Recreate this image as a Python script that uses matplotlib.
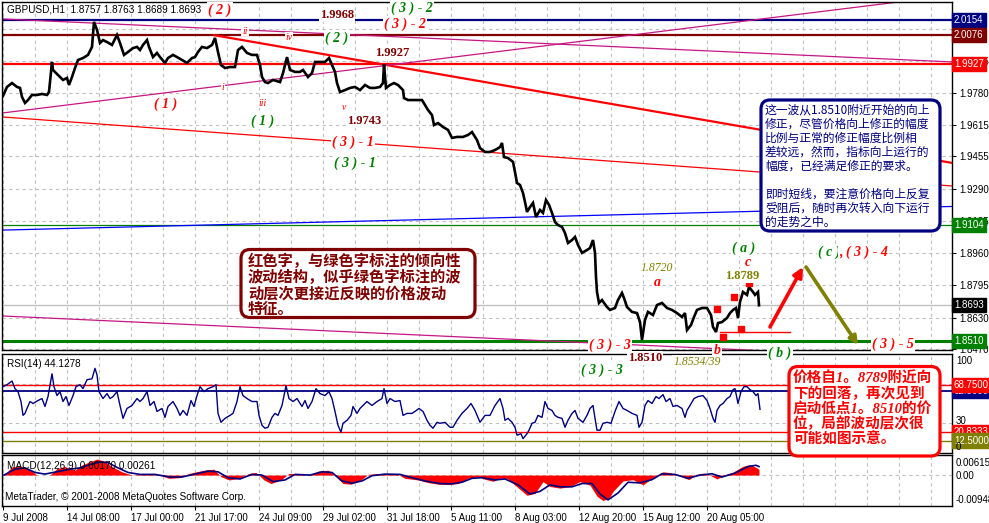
import matplotlib
matplotlib.use("Agg")
import matplotlib.pyplot as plt
import matplotlib.transforms as mtransforms
from matplotlib.patches import FancyBboxPatch
import numpy as np

plt.rcParams['font.family'] = ['Liberation Sans', 'Noto Sans CJK SC', 'DejaVu Sans']

# ------------------------------------------------------------------ data
header_text = "GBPUSD,H1  1.8757 1.8763 1.8689 1.8693"

# (bar index, close) (H1 bars)
price_points = [
 (0,1.9765),(4,1.9811),(9,1.9831),(14,1.9811),(17,1.9806),(19,1.9760),(22,1.9729),(25,1.9744),(29,1.9770),(34,1.9770),
 (39,1.9775),(44,1.9770),(46,1.9785),(49,1.9939),(50,1.9898),(55,1.9872),(60,1.9847),(64,1.9857),(66,1.9821),(69,1.9862),
 (72,1.9908),(75,1.9949),(80,1.9959),(85,1.9975),(89,2.0016),(91,2.0144),(94,2.0103),(97,2.0036),(100,2.0051),(104,2.0041),
 (109,2.0026),(114,2.0077),(117,2.0036),(121,1.9975),(125,1.9990),(130,2.0010),(134,2.0016),(137,2.0000),(140,2.0026),(144,2.0051),
 (146,2.0016),(150,1.9964),(154,1.9985),(157,1.9964),(162,1.9934),(165,1.9959),(170,1.9975),(174,1.9964),(179,1.9949),(184,1.9934),
 (189,1.9959),(192,1.9964),(195,1.9990),(199,2.0016),(204,2.0010),(209,2.0026),(212,2.0062),(215,1.9990),(218,1.9923),(222,1.9908),
 (227,1.9913),(232,1.9913),(235,2.0000),(239,2.0016),(244,1.9985),(249,1.9975),(254,1.9975),(257,1.9923),(259,1.9862),(262,1.9836),
 (265,1.9831),(270,1.9847),(277,1.9836),(280,1.9882),(284,1.9964),(287,1.9898),(292,1.9888),(297,1.9888),(300,1.9898),(305,1.9862),
 (309,1.9882),(312,1.9939),(317,1.9939),(322,1.9939),(326,1.9959),(329,1.9923),(332,1.9888),(334,1.9831),(337,1.9785),(342,1.9795),
 (347,1.9806),(352,1.9811),(357,1.9795),(362,1.9821),(367,1.9806),(372,1.9806),(377,1.9811),(380,1.9831),(381,1.9927),(383,1.9806),
 (387,1.9821),(391,1.9831),(395,1.9821),(400,1.9795),(401,1.9754),(405,1.9744),(410,1.9744),(415,1.9744),(419,1.9744),(422,1.9719),
 (425,1.9693),(429,1.9667),(431,1.9616),(435,1.9626),(440,1.9606),(445,1.9591),(449,1.9550),(454,1.9555),(460,1.9555),(465,1.9565),
 (469,1.9580),(474,1.9539),(477,1.9498),(482,1.9478),(487,1.9478),(492,1.9488),(497,1.9503),(499,1.9524),(501,1.9452),(505,1.9447),
 (510,1.9427),(512,1.9375),(514,1.9319),(517,1.9309),(520,1.9268),(522,1.9222),(524,1.9171),(527,1.9196),(530,1.9217),(533,1.9145),
 (537,1.9181),(540,1.9166),(543,1.9232),(546,1.9207),(549,1.9166),(552,1.9119),(555,1.9104),(559,1.9094),(562,1.9063),(565,1.9012),
 (569,1.9027),(572,1.9043),(575,1.9002),(579,1.8961),(584,1.8976),(587,1.8986),(590,1.9027),(592,1.8961),(593,1.8838),(594,1.8761),
 (596,1.8705),(599,1.8720),(601,1.8705),(604,1.8684),(607,1.8669),(612,1.8679),(615,1.8720),(619,1.8756),(621,1.8730),(624,1.8684),
 (629,1.8659),(634,1.8653),(637,1.8607),(639,1.8515),(642,1.8618),(645,1.8659),(650,1.8643),(654,1.8694),(659,1.8705),(664,1.8679),
 (669,1.8669),(674,1.8653),(679,1.8633),(682,1.8653),(684,1.8566),(688,1.8592),(691,1.8633),(694,1.8669),(699,1.8679),(704,1.8679),
 (708,1.8643),(710,1.8582),(713,1.8556),(715,1.8602),(719,1.8607),(724,1.8628),(727,1.8653),(730,1.8669),(733,1.8679),(735,1.8628),
 (737,1.8710),(740,1.8761),(744,1.8746),(746,1.8787),(750,1.8761),(752,1.8746),(755,1.8761),(756,1.8693),
]

rsi_points = [
 (0,67),(4,69),(9,72.7),(12,65),(15,62),(18,52),(20,38),(22,40),(24,45),(27,52),(30,50),(35,53),(39,55),(42,47),(45,57),
 (49,80),(51,67),(54,58),(57,62),(60,52),(63,57),(66,48),(70,58),(73,67),(77,69),(80,65),(84,74),(89,75),(92,85.5),(94,79),
 (96,62),(100,55),(104,60),(107,55),(110,57),(114,62),(117,48),(120,35),(124,45),(129,48),(134,55),(137,52),(140,55),(144,62),
 (147,48),(151,52),(154,42),(159,45),(162,36),(165,47),(170,52),(174,45),(177,38),(180,43),(184,38),(188,53),(191,47),(194,58),
 (197,67),(201,62),(205,65),(210,67),(213,69),(215,40),(218,31),(222,35),(227,38),(230,40),(234,52),(237,67),(240,58),(244,55),
 (249,52),(254,52),(256,38),(259,28),(262,25),(265,26),(269,36),(272,40),(275,38),(279,48),(283,68),(286,55),(290,52),(294,55),
 (299,47),(302,53),(305,45),(309,52),(313,65),(317,60),(322,58),(326,62),(329,55),(332,42),(335,28),(338,21),(340,30),(344,33),
 (348,38),(350,47),(354,40),(357,45),(360,48),(364,52),(369,48),(374,52),(379,55),(381,65),(384,50),(387,55),(392,52),(397,53),
 (400,38),(404,40),(409,40),(412,42),(416,45),(420,42),(424,33),(427,28),(430,25),(434,31),(437,30),(442,31),(447,26),(450,26),
 (454,33),(459,40),(464,45),(468,50),(472,43),(477,31),(482,38),(487,38),(492,48),(497,55),(500,45),(502,33),(505,35),(509,31),
 (512,26),(514,18),(518,19.5),(520,14.5),(524,19.5),(526,23),(529,30),(532,31),(535,38),(539,36),(542,52),(545,45),(549,43),
 (552,38),(555,36),(559,35),(562,26),(565,33),(569,40),(572,43),(575,35),(580,31),(584,38),(587,45),(590,48),(592,35),(594,23),
 (597,23),(600,30),(604,31),(608,30),(612,42),(616,52),(620,45),(624,43),(629,40),(634,38),(636,26),(639,31),(642,48),(645,53),
 (649,50),(653,57),(656,55),(660,59),(663,52),(667,55),(670,47),(674,48),(679,45),(682,36),(684,43),(687,48),(691,55),(695,57),
 (700,58),(704,53),(707,45),(710,35),(712,31),(714,43),(717,48),(720,50),(724,55),(727,57),(730,64),(732,65),(735,50),(738,62),
 (741,67),(744,67),(747,64),(750,62),(753,58),(755,60),(757,44.13),
]

macd_hist_points = [
 (1,0.0),(9,0.0025),(17,0.0028),(27,0.0016),(34,0.0),(47,0.0),(54,0.002),(62,0.0026),(72,0.0015),(79,0.0031),(87,0.0041),
 (94,0.0049),(101,0.0043),(109,0.0026),(119,0.001),(129,0.0),(146,0.0005),(156,0.0),(166,-0.001),(176,-0.0008),(186,0.0005),
 (201,0.0015),(211,0.0018),(218,-0.0005),(226,-0.0015),(236,-0.001),(246,0.0005),(253,0.0008),(261,-0.0015),(268,-0.0026),
 (278,-0.0015),(286,0.0005),(296,0.0005),(305,-0.0002),(315,0.0012),(325,0.0015),(333,-0.0005),(340,-0.0026),(348,-0.0028),
 (358,-0.0015),(365,0.0002),(375,0.0005),(385,0.0002),(395,0.0002),(402,-0.001),(415,-0.0015),(425,-0.0023),(435,-0.0028),
 (445,-0.0029),(455,-0.0026),(465,-0.001),(475,-0.0005),(482,-0.0013),(490,-0.0019),(497,-0.001),(504,-0.001),(514,-0.0036),
 (524,-0.0062),(532,-0.0056),(540,-0.002),(547,-0.0035),(557,-0.004),(567,-0.0035),(577,-0.002),(587,-0.0031),(594,-0.0065),
 (600,-0.0078),(606,-0.0071),(610,-0.005),(620,-0.0018),(630,-0.0014),(640,-0.003),(649,-0.001),(654,0.0),(660,0.001),
 (666,0.0008),(676,-0.0002),(686,-0.0014),(693,0.0002),(701,0.0006),(707,0.0),(714,-0.0012),(723,0.0002),(730,0.0009),
 (740,0.0027),(747,0.0032),(754,0.0022),(756,0.0017),
]

macd_signal_points = [
 (1,0.0),(12,0.0018),(22,0.0022),(32,0.0008),(42,0.0003),(57,0.0012),(67,0.0018),(77,0.0022),(87,0.0032),(97,0.0040),
 (105,0.0038),(115,0.0022),(125,0.0008),(137,0.0002),(152,0.0002),(167,-0.0006),(179,-0.0006),(192,0.0003),(205,0.0012),
 (215,0.0010),(225,-0.0008),(237,-0.0012),(249,0.0002),(259,0.0),(270,-0.0020),(282,-0.0015),(292,0.0002),(307,0.0),
 (319,0.0010),(329,0.0008),(339,-0.0018),(349,-0.0025),(359,-0.0018),(369,-0.0002),(382,0.0003),(397,0.0002),(409,-0.0008),
 (422,-0.0018),(437,-0.0026),(449,-0.0027),(459,-0.0022),(469,-0.0010),(479,-0.0008),(492,-0.0015),(502,-0.0012),(515,-0.0030),
 (527,-0.0058),(537,-0.0050),(547,-0.0030),(557,-0.0036),(569,-0.0036),(579,-0.0026),(589,-0.0026),(597,-0.0058),(605,-0.0076),
 (615,-0.0055),(625,-0.0022),(637,-0.0024),(649,-0.0014),(659,0.0004),(672,0.0002),(685,-0.0010),(697,0.0),(709,0.0004),
 (719,-0.0006),(732,0.0006),(745,0.0026),(753,0.0030),(756,0.0026),
]

time_labels = ["9 Jul 2008", "14 Jul 08:00", "17 Jul 00:00", "21 Jul 17:00", "24 Jul 09:00", "29 Jul 02:00",
               "31 Jul 18:00", "5 Aug 11:00", "8 Aug 03:00", "12 Aug 20:00", "15 Aug 12:00", "20 Aug 05:00"]
price_ticks = [2.0110, 1.9945, 1.9780, 1.9615, 1.9455, 1.9290, 1.9125, 1.8960, 1.8795, 1.8630, 1.8470]

# horizontal levels: (price, colour, width)
h_levels = [(2.0154, '#000080', 1.6), (2.0076, '#800000', 1.6), (1.9927, '#FF0000', 1.6),
            (1.9104, '#008000', 0.9), (1.8510, '#008000', 2.2)]
bid_price = 1.8693
# trend lines: ((bar0, price0), (bar1, price1), colour, width)
trend_lines = [
    ((210, 2.0077), (949, 1.9422), '#FF0000', 1.6),
    ((0, 1.9657), (949, 1.9304), '#FF0000', 0.9),
    ((0, 2.0159), (949, 1.9939), '#C71585', 0.9),
    ((0, 1.9678), (949, 2.0280), '#C71585', 0.9),
    ((0, 1.8638), (760, 1.8460), '#C71585', 0.9),
    ((0, 1.9078), (949, 1.9199), '#0000FF', 0.9),
]
marker_bars = [714, 731, 746, 738, 720]
marker_prices = [1.8674, 1.8735, 1.8807, 1.8572, 1.8531]
short_level = ((717, 787), 1.8556)
arrow_up = ((767, 1.8582), (800, 1.8889))
arrow_down = ((803, 1.8889), (855, 1.8490))

rsi_levels = [(62.5, '#000080', 1.3), (68.75, '#FF0000', 1.0), (20.8333, '#FF0000', 1.0), (12.5, '#808000', 1.0)]

# ------------------------------------------------------------------ figure
W, H = 989, 523
fig = plt.figure(figsize=(W / 100, H / 100), dpi=100)
PX = mtransforms.Affine2D().scale(1, -1).translate(0, H)

NAVY, MAROON, RED, GREEN, OLIVE = '#000080', '#800000', '#FF0000', '#008000', '#808000'
GRID = '#C0C0C0'


def axes_px(x0, y0, x1, y1):
    return fig.add_axes([x0 / W, 1 - y1 / H, (x1 - x0) / W, (y1 - y0) / H])


ax = axes_px(2, 2, 952, 350)
ax2 = axes_px(2, 354, 952, 453)
ax3 = axes_px(2, 455, 952, 506)

XMIN, XMAX = -1, 949
grid_pos = list(range(0, 949, 32))
for a in (ax, ax2, ax3):
    a.set_xlim(XMIN, XMAX)
    a.set_facecolor('white')
    for s in a.spines.values():
        s.set_color('black')
        s.set_linewidth(1.0)
    for g in grid_pos:
        a.axvline(g, color=GRID, lw=0.8, ls=(0, (3, 3)), zorder=0.5)
    a.set_xticks([])

# ---- main panel
ax.set_ylim(1.84639, 2.02460)
ax.yaxis.tick_right()
ax.set_yticks(price_ticks)
ax.set_yticklabels([f"{v:.4f}" for v in price_ticks])
ax.tick_params(axis='y', labelsize=7, length=3, pad=2, colors='black')
for v in price_ticks:
    ax.axhline(v, color=GRID, lw=0.8, ls=(0, (3, 3)), zorder=0.5)

for p, c, w in h_levels:
    ax.axhline(p, color=c, lw=w, zorder=2)
ax.axhline(bid_price, color=GRID, lw=1.0, zorder=1.5)
for (b0, p0), (b1, p1), c, w in trend_lines:
    ax.plot([b0, b1], [p0, p1], color=c, lw=w, zorder=2, solid_capstyle='butt')

pb = [b for b, _ in price_points]
pc = [v for _, v in price_points]
ax.plot(pb, pc, color='black', lw=1.9, zorder=4, solid_joinstyle='miter')

ax.plot(marker_bars, marker_prices, ls='none', marker='s', ms=4.5, color=RED, zorder=5)
ax.plot(list(short_level[0]), [short_level[1]] * 2, color=RED, lw=1.0, zorder=3)
ax.annotate('', xy=arrow_up[1], xytext=arrow_up[0],
            arrowprops=dict(arrowstyle='-|>', color=RED, lw=2.6, mutation_scale=14, shrinkA=0, shrinkB=0), zorder=5)
ax.annotate('', xy=arrow_down[1], xytext=arrow_down[0],
            arrowprops=dict(arrowstyle='-|>', color=OLIVE, lw=2.6, mutation_scale=12, shrinkA=0, shrinkB=0), zorder=5)

yt = ax.get_yaxis_transform()
for p, c in [(2.0154, NAVY), (2.0076, MAROON), (1.9927, RED), (1.9104, GREEN), (bid_price, 'black'), (1.8510, GREEN)]:
    ax.text(1.002, p, f"{p:.4f}", transform=yt, ha='left', va='center', fontsize=7, color='white',
            bbox=dict(boxstyle='square,pad=0.22', fc=c, ec=c), zorder=20, clip_on=False)

# ---- RSI panel
rb = [b for b, _ in rsi_points]
rv = [v for _, v in rsi_points]
ax2.set_ylim(0, 100)
ax2.set_yticks([])
for g in (30, 70):
    ax2.axhline(g, color=GRID, lw=0.8, ls=(0, (3, 3)), zorder=0.5)
for v, c, w in rsi_levels:
    ax2.axhline(v, color=c, lw=w, zorder=2)
ax2.plot(rb, rv, color=NAVY, lw=1.0, zorder=3)
yt2 = ax2.get_yaxis_transform()
for v, c in [(62.5, NAVY), (68.75, RED), (20.8333, RED), (12.5, OLIVE)]:
    ax2.text(1.002, v, f"{v:.4f}", transform=yt2, ha='left', va='center', fontsize=7, color='white',
             bbox=dict(boxstyle='square,pad=0.22', fc=c, ec=c), zorder=20, clip_on=False)

# ---- MACD panel
mb = [b for b, _ in macd_hist_points]
mv = [v for _, v in macd_hist_points]
sb = [b for b, _ in macd_signal_points]
sv = [v for _, v in macd_signal_points]
ax3.set_ylim(-0.00948, 0.00615)
ax3.set_yticks([])
ax3.axhline(0, color=GRID, lw=0.8, ls=(0, (3, 3)), zorder=0.5)
ax3.fill_between(mb, 0, mv, color=RED, lw=0, zorder=2)
ax3.plot(sb, sv, color=NAVY, lw=1.2, zorder=3)
ax3.set_xticks([64 * i for i in range(len(time_labels))])
ax3.set_xticklabels(time_labels)
ax3.tick_params(axis='x', labelsize=7, length=3, pad=2, colors='black')
for lab in ax3.get_xticklabels():
    lab.set_ha('left')


# ------------------------------------------------------------------ texts
def ptext(x, y, s, **kw):
    base = dict(transform=PX, va='center', ha='left', fontsize=7, color='black', zorder=6)
    base.update(kw)
    return fig.text(x, y, s, **base)


ptext(7, 10, header_text, fontsize=7.2)
ptext(7, 364, "RSI(14) 44.1278", fontsize=7.2)
ptext(7, 466, "MACD(12,26,9) 0.00170 0.00261", fontsize=7.2)
ptext(5, 497, "MetaTrader, © 2001-2008 MetaQuotes Software Corp.", fontsize=7.2)
for y, s in [(361, "100"), (421, "30"), (447, "0"), (463, "0.00615"), (476, "0.00"), (500, "-0.00948")]:
    ptext(956, y, s, fontsize=7)

WB = dict(boxstyle='square,pad=0.08', fc='white', ec='none')
SERIF = 'Liberation Serif'


def wave(x, y, s, color, size=10, weight='bold', style='italic', ha='center', bg=True):
    kw = dict(ha=ha, color=color, fontsize=size, fontweight=weight, fontstyle=style, family=SERIF, zorder=6)
    if bg:
        kw['bbox'] = WB
    ptext(x, y, s, **kw)


wave(220, 10, "( 2 )", RED)
wave(337, 15, "1.9968", MAROON, size=9, style='normal')
wave(412, 8, "( 3 ) - 2", GREEN)
wave(405, 24, "( 3 ) - 2", RED)
wave(245, 31, "ii", RED, size=7, weight='normal')
wave(289, 37, "iv", RED, size=7, weight='normal')
wave(337, 38, "( 2 )", GREEN)
wave(392, 53, "1.9927", MAROON, size=9, style='normal')
wave(223, 88, "i", RED, size=7, weight='normal')
wave(166, 104, "( 1 )", RED)
wave(263, 103, "iii", RED, size=7, weight='normal')
wave(344, 108, "v", RED, size=7, weight='normal')
wave(263, 121, "( 1 )", GREEN)
wave(364, 121, "1.9743", MAROON, size=9, style='normal')
wave(353, 142, "( 3 ) - 1", RED)
wave(355, 163, "( 3 ) - 1", GREEN)
wave(744, 248, "( a )", GREEN)
wave(748, 263, "c", RED)
wave(657, 268, "1.8720", OLIVE, size=8.5, weight='normal')
wave(657, 283, "a", RED)
wave(742, 276, "1.8789", OLIVE, size=9, style='normal')
wave(818, 252, "( c )", GREEN, ha='left')
wave(839, 252, ", ( 3 ) - 4", RED, ha='left')
wave(610, 345, "( 3 ) - 3", RED)
wave(645, 358, "1.8510", MAROON, size=9, style='normal')
wave(717, 351, "b", RED)
wave(780, 353, "( b )", GREEN)
wave(893, 344, "( 3 ) - 5", RED)
wave(602, 370, "( 3 ) - 3", GREEN)
wave(697, 362, "1.8534/39", OLIVE, size=8.5, weight='normal')


def rbox(x0, y0, x1, y1, color):
    p = FancyBboxPatch((x0, y0), x1 - x0, y1 - y0, boxstyle='round,pad=0,rounding_size=9',
                       transform=PX, fc='white', ec=color, lw=2.3, zorder=8)
    fig.add_artist(p)


navy_lines = ["这一波从1.8510附近开始的向上", "修正，尽管价格向上修正的幅度", "比例与正常的修正幅度比例相",
              "差较远，然而，指标向上运行的", "幅度，已经满足修正的要求。", "",
              "即时短线，要注意价格向上反复", "受阻后，随时再次转入向下运行", "的走势之中。"]
maroon_lines = ["红色字，与绿色字标注的倾向性", "波动结构，似乎绿色字标注的波", "动层次更接近反映的价格波动", "特征。"]
red_lines = ["价格自1。8789附近向", "下的回落，再次见到", "启动低点1。8510的价", "位，局部波动层次很", "可能如图示意。"]

rbox(761, 100, 940, 231, NAVY)
for i, s in enumerate(navy_lines):
    ptext(765, 110 + 14 * i, s, fontsize=8.5, color=NAVY, family=['Noto Sans CJK SC'], zorder=9)

rbox(241, 249.5, 475, 317.5, MAROON)
for i, s in enumerate(maroon_lines):
    ptext(248, 261 + 16 * i, s, fontsize=11, color=MAROON, fontweight='bold',
          family=['Noto Sans CJK SC'], zorder=9)

rbox(789, 366.5, 940, 456, RED)
for i, s in enumerate(red_lines):
    ptext(793, 379 + 15 * i, s, fontsize=10.5, color=RED, fontweight='bold', fontstyle='italic',
          family=[SERIF, 'Noto Sans CJK SC'], zorder=9)

fig.savefig("out.png", dpi=100)
